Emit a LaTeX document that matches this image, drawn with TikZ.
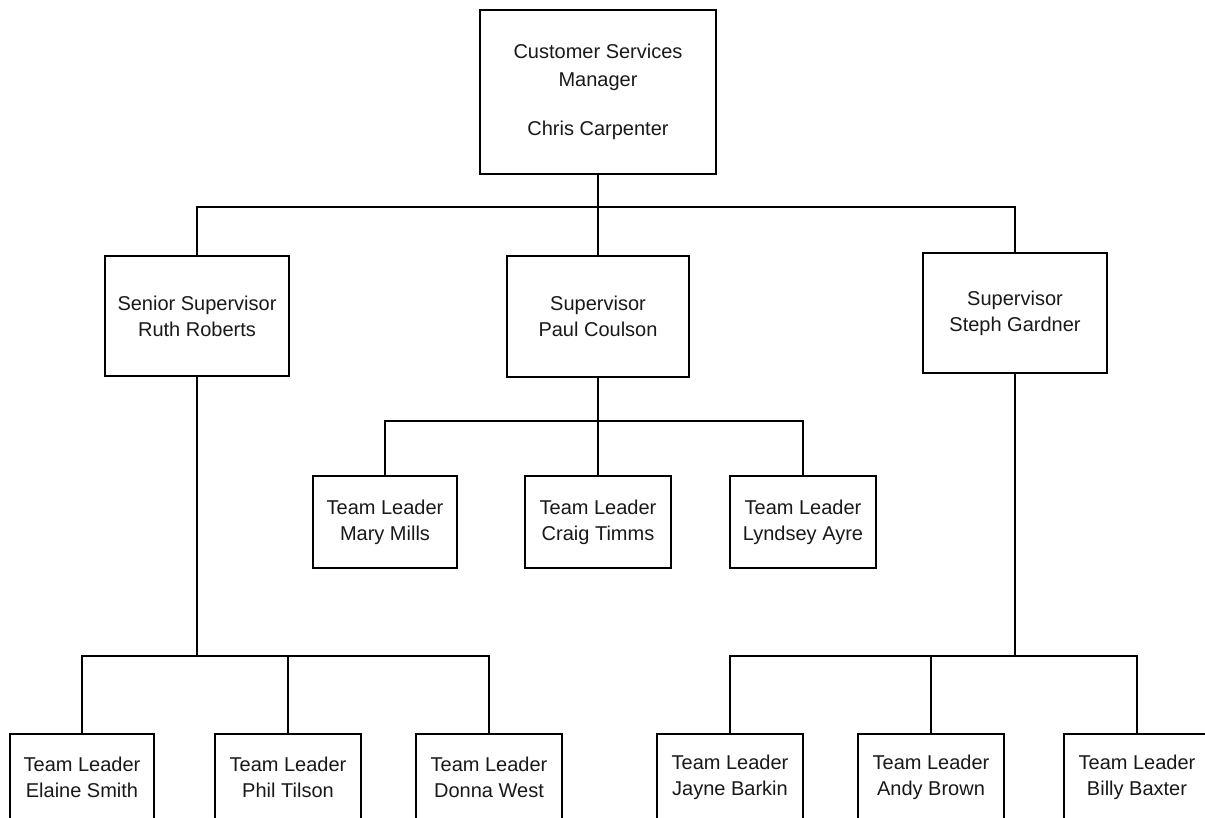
\documentclass[tikz,border=0pt]{standalone}
\usepackage{fontspec}
\setmainfont{Liberation Sans}
\begin{document}
\begin{tikzpicture}[x=1pt,y=-1pt,
  box/.style={draw=black, line width=1.4pt, rectangle, align=center, inner sep=0pt,
    font=\fontsize{20}{26}\selectfont, text=black!90},
  wire/.style={draw=black, line width=1.4pt}]
\clip (0,0) rectangle (1205,817);
\fill[white] (0,0) rectangle (1205,817);
% top
\node[box, minimum width=236pt, minimum height=164pt, font=\fontsize{20}{28}\selectfont] (csm) at (598,92)
  {Customer Services\\Manager\\[21pt]Chris Carpenter};
% supervisors
\node[box, minimum width=184pt, minimum height=120pt] (ruth) at (197,316) {Senior Supervisor\\Ruth Roberts};
\node[box, minimum width=182pt, minimum height=121pt] (paul) at (598,316.5) {Supervisor\\Paul Coulson};
\node[box, minimum width=184pt, minimum height=120pt] (steph) at (1015,313) {Supervisor\\Steph Gardner};
% middle team leaders
\node[box, minimum width=144pt, minimum height=92pt] (mary) at (385,522) {Team Leader\\Mary Mills};
\node[box, minimum width=146pt, minimum height=92pt] (craig) at (598,522) {Team Leader\\Craig Timms};
\node[box, minimum width=146pt, minimum height=92pt] (lyndsey) at (803,522) {Team Leader\\Lyndsey Ayre};
% bottom team leaders
\node[box, minimum width=144pt, minimum height=86pt] (elaine) at (82,777) {Team Leader\\Elaine Smith};
\node[box, minimum width=146pt, minimum height=86pt] (phil) at (288,777) {Team Leader\\Phil Tilson};
\node[box, minimum width=146pt, minimum height=86pt] (donna) at (489,777) {Team Leader\\Donna West};
\node[box, minimum width=146pt, minimum height=86pt] (jayne) at (730,777) {Team Leader\\Jayne Barkin};
\node[box, minimum width=146pt, minimum height=86pt] (andy) at (931,777) {Team Leader\\Andy Brown};
\node[box, minimum width=146pt, minimum height=86pt] (billy) at (1137,777) {Team Leader\\Billy Baxter};
% junctions
\coordinate (j1) at (csm.south |- 0,207);
\coordinate (j2) at (paul.south |- 0,421);
\coordinate (j3) at (ruth.south |- 0,656);
\coordinate (j4) at (steph.south |- 0,656);
% connectors
\draw[wire] (csm.south) -- (j1);
\draw[wire] (ruth.north) |- (j1) -| (steph.north);
\draw[wire] (paul.north) -- (paul.north |- j1);
\draw[wire] (paul.south) -- (j2);
\draw[wire] (mary.north) |- (j2) -| (lyndsey.north);
\draw[wire] (craig.north) -- (craig.north |- j2);
\draw[wire] (ruth.south) -- (j3);
\draw[wire] (elaine.north) |- (j3) -| (donna.north);
\draw[wire] (phil.north) -- (phil.north |- j3);
\draw[wire] (steph.south) -- (j4);
\draw[wire] (jayne.north) |- (j4) -| (billy.north);
\draw[wire] (andy.north) -- (andy.north |- j4);
\end{tikzpicture}
\end{document}
